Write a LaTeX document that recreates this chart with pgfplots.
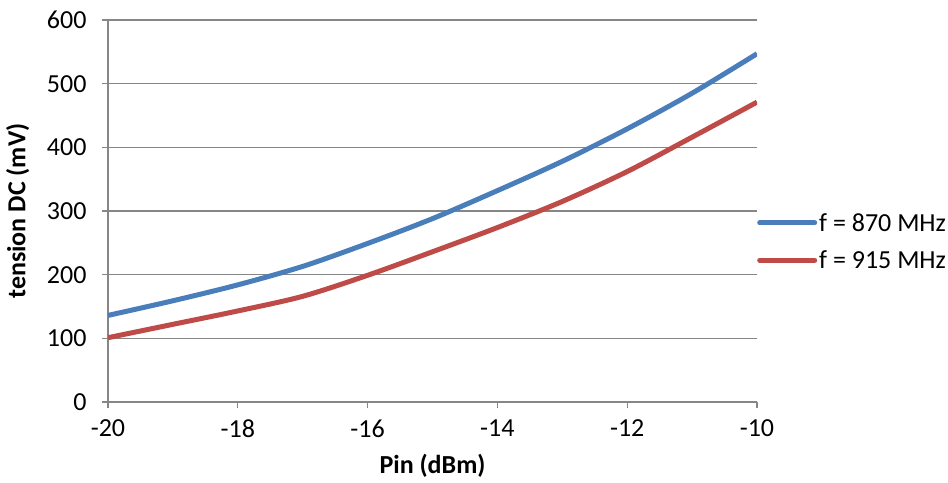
\documentclass[border=0pt]{standalone}
\usepackage{pgfplots}
\pgfplotsset{compat=1.18}
\usepackage{fontspec}
\setmainfont{Carlito}
\definecolor{cblue}{HTML}{4A7EBB}
\definecolor{cred}{HTML}{BE4B48}
\definecolor{cgrid}{HTML}{868686}
\begin{document}
\begin{tikzpicture}
\begin{axis}[
  scale only axis,
  width=649bp, height=382bp,
  xmin=-20, xmax=-10, ymin=0, ymax=600,
  xtick={-20,-18,...,-10}, ytick={0,100,...,600},
  axis x line*=bottom, axis y line*=left,
  axis line style={cgrid, line width=1.2bp, -},
  tick style={cgrid, line width=1.2bp},
  tick align=outside, major tick length=6bp,
  ymajorgrids, grid style={cgrid, line width=1.2bp},
  font=\fontsize{26bp}{31bp}\selectfont,
  /pgf/number format/assume math mode=true,
  xticklabel style={yshift=-8bp},
  yticklabel style={xshift=-12bp},
  xlabel={\textbf{Pin (dBm)}},
  ylabel={\textbf{tension DC (mV)}},
  xlabel style={at={(axis description cs:0.5,-0.1675)}, anchor=center},
  ylabel style={at={(axis description cs:-0.139,0.5)}, anchor=center, rotate=0},
  legend style={draw=none, fill=none, at={(axis description cs:1,0.42)}, anchor=west, inner sep=0pt, row sep=14bp,
    font=\fontsize{26bp}{31bp}\selectfont, cells={anchor=west}},
  legend image code/.code={\draw[#1, line cap=round] (0bp,0bp) -- (55bp,0bp);},
  legend cell align=left,
]
\addplot[cblue, line width=5bp, smooth, tension=0.5] coordinates {
(-20,136) (-19,159) (-18,184) (-17,213) (-16,249) (-15,288) (-14,332) (-13,378) (-12,429) (-11,485) (-10,547)};
\addlegendentry{f = 870 MHz}
\addplot[cred, line width=5bp, smooth, tension=0.5] coordinates {
(-20,101) (-19,122) (-18,143) (-17,166) (-16,199) (-15,236) (-14,274) (-13,315) (-12,362) (-11,416) (-10,471)};
\addlegendentry{f = 915 MHz}
\end{axis}
\pgfresetboundingbox
\path (current axis.south west) ++(-108bp,-81bp) rectangle ++(948bp,483bp);
\end{tikzpicture}
\end{document}
